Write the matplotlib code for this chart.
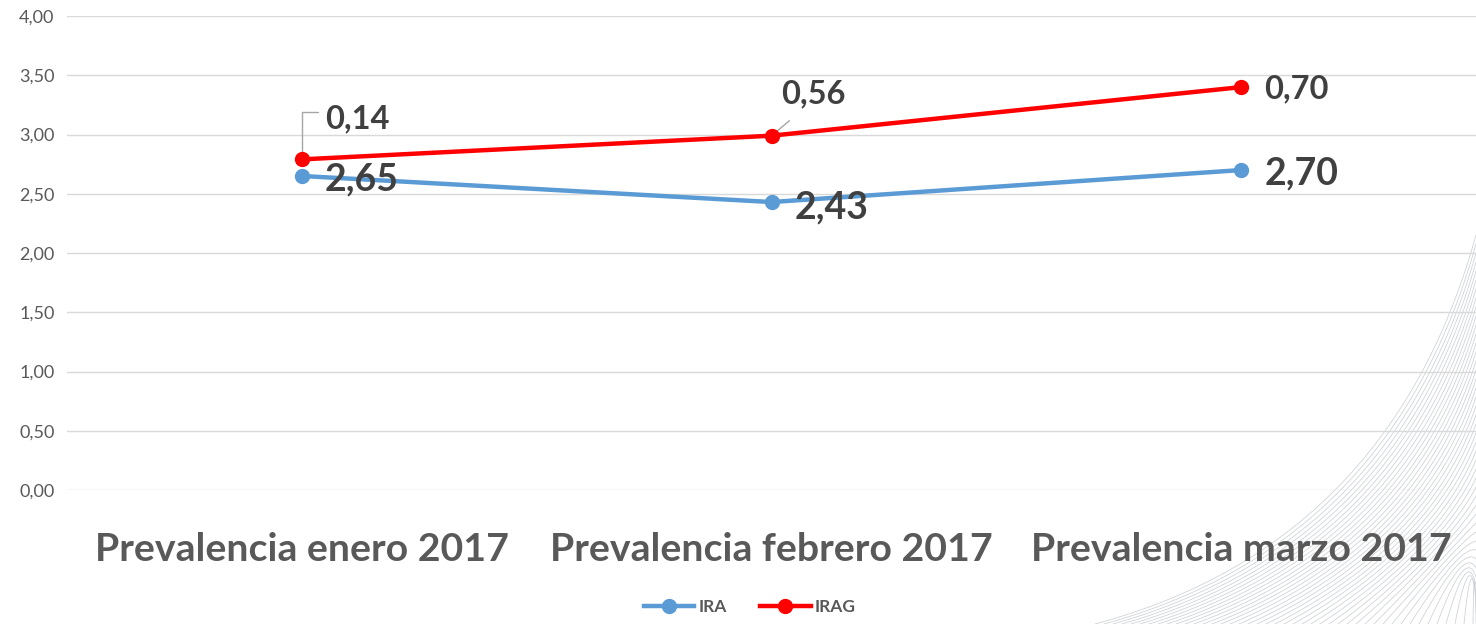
import numpy as np
import matplotlib
matplotlib.use("Agg")
import matplotlib.pyplot as plt
from matplotlib.lines import Line2D

plt.rcParams['font.family'] = ['Lato', 'DejaVu Sans']

categories = ["Prevalencia enero 2017", "Prevalencia febrero 2017", "Prevalencia marzo 2017"]
ira = [2.65, 2.43, 2.70]
irag = [0.14, 0.56, 0.70]
yticks = [0, 0.5, 1.0, 1.5, 2.0, 2.5, 3.0, 3.5, 4.0]

def fmt(v):
    return f"{v:.2f}".replace(".", ",")

fig = plt.figure(figsize=(14.76, 6.24), dpi=100)
fig.patch.set_facecolor("white")

# decorative hatched swoosh in the bottom right corner
bg = fig.add_axes([0, 0, 1, 1], zorder=0)
bg.set_xlim(0, 1476)
bg.set_ylim(624, 0)
bg.axis("off")
t = np.linspace(0, 1, 60)
for k in range(45):
    p0 = np.array([1095 + k * 9, 624])
    p2 = np.array([1476, 235 + k * 9])
    p1 = np.array([1390 + k * 2, 545])
    pts = ((1 - t) ** 2)[:, None] * p0 + (2 * (1 - t) * t)[:, None] * p1 + (t ** 2)[:, None] * p2
    bg.plot(pts[:, 0], pts[:, 1], color="#ccd1d6", lw=0.55)

ax = fig.add_axes([67 / 1476, 1 - 490 / 624, 1 - 67 / 1476, (490 - 16) / 624], zorder=1)
ax.patch.set_alpha(0)
x = np.arange(len(categories))
irag_top = [a + b for a, b in zip(ira, irag)]

ax.plot(x, ira, color="#5B9BD5", lw=3.2, marker="o", ms=10, zorder=3)
ax.plot(x, irag_top, color="#FF0000", lw=3.2, marker="o", ms=10, zorder=4)

ax.set_xlim(-0.5, 2.5)
ax.set_ylim(0, 4)
ax.set_yticks(yticks)
ax.set_yticklabels([fmt(v) for v in yticks], fontsize=13, color="#595959")
ax.set_xticks(x)
ax.set_xticklabels(categories, fontsize=28.3, fontweight="bold", color="#595959")
ax.tick_params(axis="y", length=0, pad=9)
ax.tick_params(axis="x", length=0, pad=30)
ax.yaxis.grid(True, color="#D9D9D9", lw=1)
ax.set_axisbelow(True)
for s in ax.spines.values():
    s.set_visible(False)

# data labels
ira_off = [(23, -4), (23, -5), (23, -3)]
for i, v in enumerate(ira):
    ax.annotate(fmt(v), (x[i], ira[i]), xytext=ira_off[i], textcoords="offset pixels",
                ha="left", va="center", fontsize=27, fontweight="bold", color="#404040", zorder=5)

irag_off = [(23, 41), (10, 42), (23, -2)]
for i, v in enumerate(irag):
    ax.annotate(fmt(v), (x[i], irag_top[i]), xytext=irag_off[i], textcoords="offset pixels",
                ha="left", va="center", fontsize=23.5, fontweight="bold", color="#404040", zorder=5)

# leader lines
ax.annotate("", (x[0], irag_top[0]), xytext=(16, 47), textcoords="offset pixels",
            arrowprops=dict(arrowstyle="-", color="#A6A6A6", lw=1, shrinkA=0, shrinkB=5,
                            connectionstyle="angle,angleA=0,angleB=90,rad=0"))
ax.annotate("", (x[1], irag_top[1]), xytext=(18, 15), textcoords="offset pixels",
            arrowprops=dict(arrowstyle="-", color="#A6A6A6", lw=1, shrinkA=0, shrinkB=5))

handles = [Line2D([], [], color="#5B9BD5", lw=3.2, marker="o", ms=10),
           Line2D([], [], color="#FF0000", lw=3.2, marker="o", ms=10)]
leg = fig.legend(handles, ["IRA", "IRAG"], loc="center", bbox_to_anchor=(750 / 1476, 1 - 607 / 624),
                 ncol=2, frameon=False, handlelength=2.9, columnspacing=1.9, handletextpad=0.25,
                 prop={"size": 12.5, "weight": "bold"})
for txt in leg.get_texts():
    txt.set_color("#595959")

fig.savefig("out.png", dpi=100, facecolor="white")
